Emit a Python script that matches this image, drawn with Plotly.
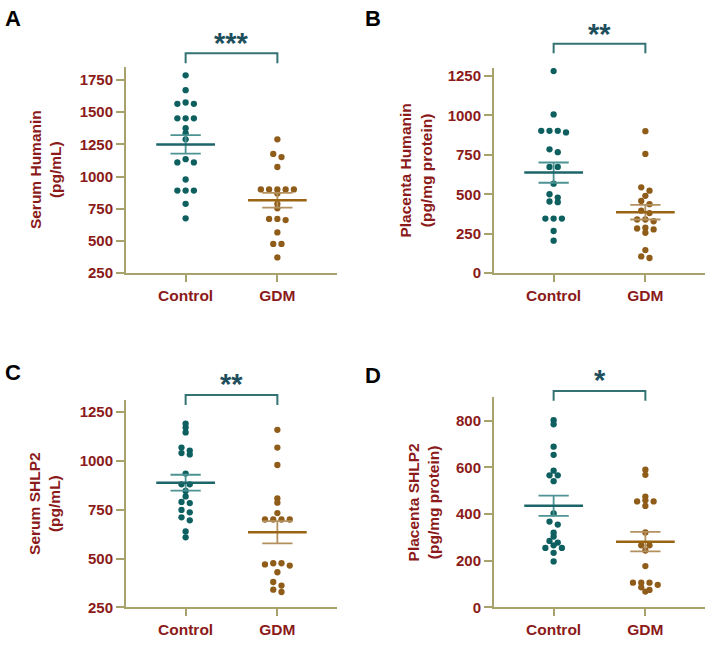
import numpy as np
import plotly.graph_objects as go

W, H = 713, 645

groups = ["Control", "GDM"]
panel_letters = ["A", "B", "C", "D"]
y_titles = ["Serum Humanin<br>(pg/mL)", "Placenta Humanin<br>(pg/mg protein)",
            "Serum SHLP2<br>(pg/mL)", "Placenta SHLP2<br>(pg/mg protein)"]
sig_labels = ["***", "**", "**", "*"]

# Panel A: Serum Humanin (pg/mL)
serum_humanin_control = [1786, 1671, 1575, 1565, 1565, 1452, 1452, 1452, 1375, 1337,
                         1289, 1135, 1110, 1110, 977, 891, 891, 891, 788, 676]
serum_humanin_gdm = [1289, 1176, 1151, 1074, 900, 900, 900, 900, 900, 868,
                     788, 753, 671, 671, 662, 566, 477, 477, 372]
# Panel B: Placenta Humanin (pg/mg protein)
placenta_humanin_control = [1281, 1006, 902, 902, 902, 892, 785, 767, 673, 673,
                            567, 500, 479, 454, 450, 346, 346, 346, 267, 206]
placenta_humanin_gdm = [900, 756, 544, 523, 490, 458, 437, 396, 381, 340,
                        340, 329, 288, 283, 277, 256, 146, 106, 96]
# Panel C: Serum SHLP2 (pg/mL)
serum_shlp2_control = [1191, 1171, 1146, 1068, 1053, 1040, 1033, 935, 880, 880,
                       846, 818, 790, 784, 749, 737, 711, 696, 639, 609]
serum_shlp2_gdm = [1159, 1068, 979, 808, 786, 733, 700, 700, 700, 700,
                   476, 476, 470, 464, 430, 380, 362, 341, 329]
# Panel D: Placenta SHLP2 (pg/mg protein)
placenta_shlp2_control = [802, 785, 689, 654, 586, 566, 566, 541, 403, 368,
                          355, 320, 304, 285, 278, 266, 255, 255, 234, 197]
placenta_shlp2_gdm = [590, 568, 475, 459, 454, 454, 435, 321, 266, 266,
                      244, 177, 106, 106, 106, 97, 86, 75, 68]

panel_data = [
    (serum_humanin_control, serum_humanin_gdm),
    (placenta_humanin_control, placenta_humanin_gdm),
    (serum_shlp2_control, serum_shlp2_gdm),
    (placenta_shlp2_control, placenta_shlp2_gdm),
]
y_ranges = [[250, 1850], [0, 1300], [250, 1310], [0, 900]]
y_ticks = [[250, 500, 750, 1000, 1250, 1500, 1750],
           [0, 250, 500, 750, 1000, 1250],
           [250, 500, 750, 1000, 1250],
           [0, 200, 400, 600, 800]]

# layout (pixels)
x_dom_px = [(126, 337), (494, 705), (126, 337), (494, 705)]
y_dom_px = [(67, 276), (68, 276), (405, 615), (402, 615)]  # (top, bottom)
title_x_px = [45, 416, 45, 423]
letter_pos_px = [(3, 3), (363, 3), (3, 362), (363, 365)]
bracket_y = [(1.067, 1.019), (1.119, 1.072), (1.026, 0.978), (1.031, 0.984)]
star_y = [1.118, 1.168, 1.078, 1.083]

# styles
AXIS_C = "#a7a26c"
TEXT_C = "#8b1a1a"
DOT_C = ["#0e5f5f", "#8f5c19"]
MEAN_C = ["#1c6568", "#9a6415"]
SEM_C = ["#4d9393", "#b3915f"]
STAR_C = "#1f4f5c"
BRACKET_C = "#337373"
FONT = "Liberation Sans, Arial, sans-serif"


def swarm_offsets(vals, px_per_unit, thr=3.6, step=0.09):
    vals = np.asarray(vals, dtype=float)
    order = np.argsort(-vals, kind="stable")
    offs = np.zeros(len(vals))
    rows, cur = [], []
    for i in order:
        if cur and (vals[cur[0]] - vals[i]) * px_per_unit < thr:
            cur.append(i)
        else:
            if cur:
                rows.append(cur)
            cur = [i]
    rows.append(cur)
    for r in rows:
        n = len(r)
        pos = sorted([k - (n - 1) / 2 for k in range(n)], key=lambda p: (abs(p), p))
        for idx, p in zip(r, pos):
            offs[idx] = p * step
    return offs


fig = go.Figure()
annotations = []
shapes = []

for p in range(4):
    xa = "x" if p == 0 else f"x{p + 1}"
    ya = "y" if p == 0 else f"y{p + 1}"
    xl = "xaxis" if p == 0 else f"xaxis{p + 1}"
    yl = "yaxis" if p == 0 else f"yaxis{p + 1}"
    top, bot = y_dom_px[p]
    px_per_unit = (bot - top) / (y_ranges[p][1] - y_ranges[p][0])

    for g in range(2):
        vals = np.array(panel_data[p][g], dtype=float)
        xc = g + 1
        offs = swarm_offsets(vals, px_per_unit)
        m = vals.mean()
        sem = vals.std(ddof=1) / np.sqrt(len(vals))
        fig.add_trace(go.Scatter(
            x=xc + offs, y=vals, mode="markers", xaxis=xa, yaxis=ya,
            marker=dict(size=6.3, color=DOT_C[g], line=dict(width=0)),
            showlegend=False, hoverinfo="y"))
        # SEM whiskers and caps
        fig.add_trace(go.Scatter(
            x=[xc, xc, None, xc - 0.165, xc + 0.165, None, xc - 0.165, xc + 0.165],
            y=[m - sem, m + sem, None, m + sem, m + sem, None, m - sem, m - sem],
            mode="lines", xaxis=xa, yaxis=ya,
            line=dict(color=SEM_C[g], width=1.8), showlegend=False, hoverinfo="skip"))
        # mean line
        fig.add_trace(go.Scatter(
            x=[xc - 0.32, xc + 0.32], y=[m, m], mode="lines", xaxis=xa, yaxis=ya,
            line=dict(color=MEAN_C[g], width=2.5), showlegend=False, hoverinfo="skip"))

    xd = [x_dom_px[p][0] / W, x_dom_px[p][1] / W]
    yd = [1 - bot / H, 1 - top / H]
    fig.layout[xl] = dict(
        domain=xd, anchor=ya, range=[0.35, 2.65], tickmode="array",
        tickvals=[1, 2], ticktext=groups, showline=True, linecolor=AXIS_C, linewidth=2,
        ticks="outside", ticklen=7, tickwidth=2, tickcolor=AXIS_C,
        showgrid=False, zeroline=False, fixedrange=True,
        tickfont=dict(family=FONT, size=15.5, color=TEXT_C, weight="bold"))
    fig.layout[yl] = dict(
        domain=yd, anchor=xa, range=y_ranges[p], tickmode="array",
        tickvals=y_ticks[p], showline=True, linecolor=AXIS_C, linewidth=2,
        ticks="outside", ticklen=8, tickwidth=2, tickcolor=AXIS_C,
        showgrid=False, zeroline=False, fixedrange=True,
        tickfont=dict(family=FONT, size=15, color=TEXT_C, weight="bold"))

    # significance bracket
    by, bd = bracket_y[p]
    shapes.append(dict(type="path", xref=xa, yref=f"{ya} domain",
                       path=f"M 1,{bd} L 1,{by} L 2,{by} L 2,{bd}",
                       line=dict(color=BRACKET_C, width=2)))
    annotations.append(dict(text=f"<b>{sig_labels[p]}</b>", x=1.5, y=star_y[p],
                            xref=xa, yref=f"{ya} domain", showarrow=False,
                            xanchor="center", yanchor="middle",
                            font=dict(family=FONT, size=29, color=STAR_C)))
    # y-axis title
    annotations.append(dict(text=f"<b>{y_titles[p]}</b>", textangle=-90,
                            x=title_x_px[p] / W, y=1 - ((top + bot) / 2) / H,
                            xref="paper", yref="paper", showarrow=False,
                            xanchor="center", yanchor="middle",
                            font=dict(family=FONT, size=15.5, color=TEXT_C)))
    # panel letter
    lx, ly = letter_pos_px[p]
    annotations.append(dict(text=f"<b>{panel_letters[p]}</b>", x=lx / W, y=1 - ly / H,
                            xref="paper", yref="paper", showarrow=False,
                            xanchor="left", yanchor="top",
                            font=dict(family=FONT, size=22, color="black")))

fig.update_layout(
    width=W, height=H, margin=dict(l=0, r=0, t=0, b=0),
    paper_bgcolor="white", plot_bgcolor="white",
    annotations=annotations, shapes=shapes, showlegend=False)

fig.write_html("out.html")
